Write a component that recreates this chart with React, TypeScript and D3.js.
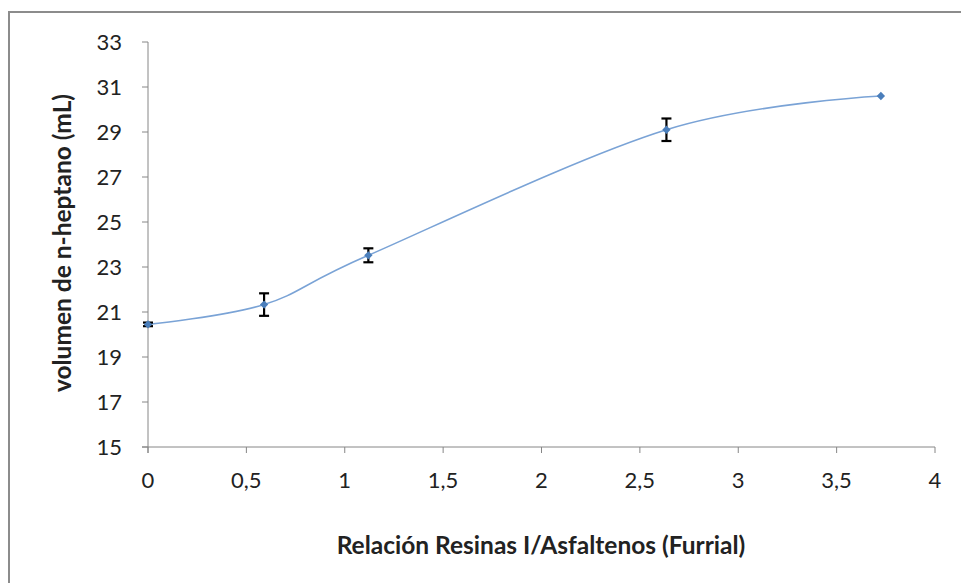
import React from "react";
import * as d3 from "d3";

const xValues = [0, 0.59, 1.12, 2.635, 3.725];
const yValues = [20.45, 21.33, 23.52, 29.1, 30.6];
const yErrors = [0.08, 0.5, 0.31, 0.5, 0];
const xTicks = [0, 0.5, 1, 1.5, 2, 2.5, 3, 3.5, 4];
const yTicks = [15, 17, 19, 21, 23, 25, 27, 29, 31, 33];
const xLabel = "Relación Resinas I/Asfaltenos (Furrial)";
const yLabel = "volumen de n-heptano (mL)";

const W = 961;
const H = 583;
const FONT = "Lato, 'Open Sans', sans-serif";

export default function App() {
  const x = d3.scaleLinear().domain([0, 4]).range([148, 935]);
  const y = d3.scaleLinear().domain([15, 33]).range([447, 42]);
  const pts: [number, number][] = xValues.map((v, i) => [x(v), y(yValues[i])]);
  const line = d3.line().curve(d3.curveCardinal.tension(0))(pts) || "";
  const fmt = (v: number) => String(v).replace(".", ",");
  const axisColor = "#868686";
  const diamond = d3.symbol().type(d3.symbolDiamond2).size(44)() || "";

  return (
    <svg width={W} height={H} style={{ position: "absolute", left: 0, top: 0, background: "#fff" }}>
      <rect x={0} y={0} width={W} height={H} fill="#fff" />
      <rect x={9} y={12} width={W + 20} height={H + 20} fill="none" stroke="#8c8c8c" strokeWidth={2} />
      {/* axes */}
      <line x1={x(0)} x2={x(0)} y1={y(33)} y2={y(15) + 6} stroke={axisColor} strokeWidth={1} />
      <line x1={x(0) - 6} x2={x(4)} y1={y(15)} y2={y(15)} stroke={axisColor} strokeWidth={1} />
      {yTicks.map((t) => (
        <g key={"y" + t}>
          <line x1={x(0) - 6} x2={x(0)} y1={y(t)} y2={y(t)} stroke={axisColor} />
          <text x={x(0) - 26} y={y(t)} dy="0.35em" textAnchor="end" fontFamily={FONT} fontSize={22} fill="#222">
            {t}
          </text>
        </g>
      ))}
      {xTicks.map((t) => (
        <g key={"x" + t}>
          <line x1={x(t)} x2={x(t)} y1={y(15)} y2={y(15) + 6} stroke={axisColor} />
          <text x={x(t)} y={y(15) + 33} dy="0.35em" textAnchor="middle" fontFamily={FONT} fontSize={22} fill="#222">
            {fmt(t)}
          </text>
        </g>
      ))}
      {/* curve */}
      <path d={line} fill="none" stroke="#7aa3d6" strokeWidth={1.6} />
      {/* error bars */}
      {xValues.map((v, i) =>
        yErrors[i] > 0 ? (
          <g key={"e" + i} stroke="#000" strokeWidth={2.2}>
            <line x1={x(v)} x2={x(v)} y1={y(yValues[i] + yErrors[i])} y2={y(yValues[i] - yErrors[i])} />
            <line x1={x(v) - 5} x2={x(v) + 5} y1={y(yValues[i] + yErrors[i])} y2={y(yValues[i] + yErrors[i])} />
            <line x1={x(v) - 5} x2={x(v) + 5} y1={y(yValues[i] - yErrors[i])} y2={y(yValues[i] - yErrors[i])} />
          </g>
        ) : null
      )}
      {/* markers */}
      {pts.map((p, i) => (
        <path key={"m" + i} d={diamond} transform={`translate(${p[0]},${p[1]})`} fill="#4a7ebb" />
      ))}
      <text x={541} y={545} dy="0.35em" textAnchor="middle" fontFamily={FONT} fontWeight="bold" fontSize={24.5} fill="#222">
        {xLabel}
      </text>
      <text
        transform={`translate(62,243) rotate(-90)`}
        dy="0.35em"
        textAnchor="middle"
        fontFamily={FONT}
        fontWeight="bold"
        fontSize={24.5}
        fill="#222"
      >
        {yLabel}
      </text>
    </svg>
  );
}
